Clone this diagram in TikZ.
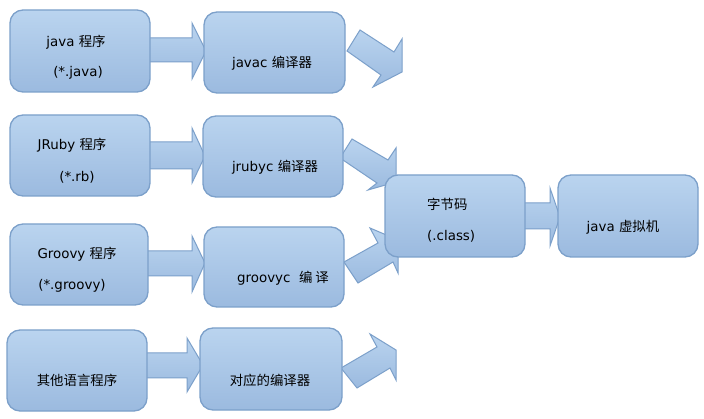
\documentclass[tikz,border=0pt]{standalone}
\usepackage{fontspec}
\setmainfont{DejaVu Sans}
\newfontfamily\cjk{Noto Sans CJK SC}
\definecolor{boxtop}{HTML}{BAD4EF}
\definecolor{boxbot}{HTML}{9BBADF}
\definecolor{boxline}{HTML}{7CA0CA}
\begin{document}
\begin{tikzpicture}[x=1pt,y=-1pt,
  box/.style={draw=boxline, line width=1.3pt, rounded corners=13pt,
    top color=boxtop, bottom color=boxbot, inner sep=0pt},
  blockarrow/.style={draw=boxline, line width=1pt, line join=miter,
    top color=boxtop, bottom color=boxbot},
  lbl/.style={font=\fontsize{13.4}{15}\selectfont, text=black, inner sep=0pt, anchor=base}]
\useasboundingbox (0,0) rectangle (704,419);
\fill[white] (0,0) rectangle (704,419);

% horizontal block arrows (under the boxes)
\path[blockarrow] (145,38) -- (192,38) -- (192,23) -- (206,51) -- (192,79) -- (192,62) -- (145,62) -- cycle;
\path[blockarrow] (145,142) -- (192,142) -- (192,128) -- (205,156) -- (192,183) -- (192,169) -- (145,169) -- cycle;
\path[blockarrow] (145,251) -- (192,251) -- (192,236) -- (205,263) -- (192,292) -- (192,276) -- (145,276) -- cycle;
\path[blockarrow] (142,353) -- (187,353) -- (187,338) -- (203,365) -- (187,392) -- (187,378) -- (142,378) -- cycle;
\path[blockarrow] (520,203) -- (550,203) -- (550,188) -- (560,217) -- (550,246) -- (550,229) -- (520,229) -- cycle;

% slanted block arrows (cut off on the right)
\path[blockarrow] (347,51) -- (360,30) -- (394,52) -- (402,39) -- (402,72) -- (373,87) -- (381,75) -- cycle;
\path[blockarrow] (340,158) -- (352,139) -- (388,160) -- (396,148) -- (396,182) -- (368,190) -- (377,183) -- cycle;
\path[blockarrow] (344,262) -- (378,243) -- (370,228) -- (398,240) -- (398,273) -- (393,262) -- (358,283) -- cycle;
\path[blockarrow] (341,368) -- (377,347) -- (370,334) -- (396,350) -- (396,380) -- (390,368) -- (357,388) -- cycle;

% boxes
\node[box, minimum width=140pt, minimum height=82pt] (A1) at (80,51) {};
\node[box, minimum width=141pt, minimum height=81pt] (B1) at (274.5,52.5) {};
\node[box, minimum width=140pt, minimum height=81pt] (A2) at (80,155.5) {};
\node[box, minimum width=140pt, minimum height=81pt] (B2) at (273,156.5) {};
\node[box, minimum width=138pt, minimum height=81pt] (A3) at (79,264.5) {};
\node[box, minimum width=140pt, minimum height=80pt] (B3) at (274,267) {};
\node[box, minimum width=140pt, minimum height=81pt] (A4) at (77,370.5) {};
\node[box, minimum width=142pt, minimum height=82pt] (B4) at (271,369) {};
\node[box, minimum width=140pt, minimum height=82pt] (C) at (455,216) {};
\node[box, minimum width=140pt, minimum height=82pt] (D) at (628,216) {};

% texts
\node[lbl] (t1a) at (76,47) {java {\cjk 程序}};
\node[lbl] (t1b) at (78,77) {(*.java)};
\node[lbl] (t2) at (272,68) {javac {\cjk 编译器}};
\node[lbl] (t3a) at (72,150) {JRuby {\cjk 程序}};
\node[lbl] (t3b) at (77,182) {(*.rb)};
\node[lbl] (t4) at (275,172) {jrubyc {\cjk 编译器}};
\node[lbl] (t5a) at (77,259) {Groovy {\cjk 程序}};
\node[lbl] (t5b) at (72,290) {(*.groovy)};
\node[lbl] (t6) at (283,283) {groovyc\ \ {\cjk 编\ 译}};
\node[lbl] (t7) at (77,385) {\cjk 其他语言程序};
\node[lbl] (t8) at (270,385) {\cjk 对应的编译器};
\node[lbl, anchor=base west] (t9a) at (427,210) {\cjk 字节码};
\node[lbl, anchor=base west] (t9b) at (427,241) {(.class)};
\node[lbl] (t10) at (623,232) {java {\cjk 虚拟机}};
\end{tikzpicture}
\end{document}
